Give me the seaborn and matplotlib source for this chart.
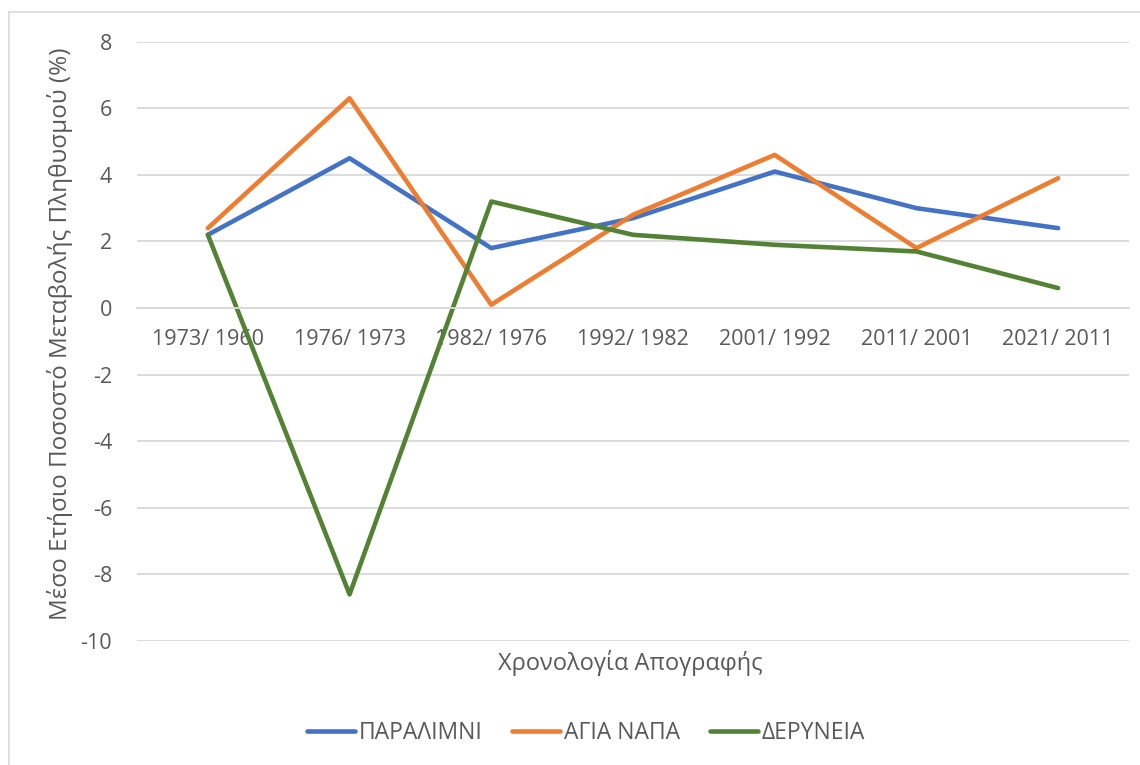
import matplotlib
matplotlib.use("Agg")
import matplotlib.pyplot as plt
from matplotlib.lines import Line2D
import seaborn as sns
import pandas as pd

periods = ["1973/ 1960", "1976/ 1973", "1982/ 1976", "1992/ 1982",
           "2001/ 1992", "2011/ 2001", "2021/ 2011"]
paralimni = [2.2, 4.5, 1.8, 2.7, 4.1, 3.0, 2.4]
agia_napa = [2.4, 6.3, 0.1, 2.8, 4.6, 1.8, 3.9]
deryneia = [2.2, -8.6, 3.2, 2.2, 1.9, 1.7, 0.6]
series_names = ["ΠΑΡΑΛΙΜΝΙ", "ΑΓΙΑ ΝΑΠΑ", "ΔΕΡΥΝΕΙΑ"]
colors = ["#4472C4", "#ED7D31", "#548235"]
y_ticks = [8, 6, 4, 2, 0, -2, -4, -6, -8, -10]

sns.set_theme(style="white")
plt.rcParams["font.family"] = ["Open Sans", "DejaVu Sans"]
plt.rcParams["axes.unicode_minus"] = False
text_color = "#595959"

df = pd.concat([
    pd.DataFrame({"period": periods, "value": vals, "town": name})
    for name, vals in zip(series_names, [paralimni, agia_napa, deryneia])
], ignore_index=True)

W, H = 1140, 765
fig = plt.figure(figsize=(W / 100, H / 100), dpi=100)
ax = fig.add_axes([137 / W, 124 / H, 992 / W, 599.3 / H])

sns.lineplot(data=df, x="period", y="value", hue="town", sort=False,
             palette=colors, linewidth=3.3, ax=ax, legend=True)
for line in ax.lines:
    line.set_solid_capstyle("round")
    line.set_solid_joinstyle("round")

ax.set_xlim(-0.5, len(periods) - 0.5)
ax.set_ylim(-10, 8)
ax.set_yticks(y_ticks)
ax.yaxis.grid(True, color="#D9D9D9", linewidth=1.3)
ax.set_axisbelow(True)
for side in ["top", "right", "left"]:
    ax.spines[side].set_visible(False)
ax.spines["bottom"].set_position(("data", 0))
ax.spines["bottom"].set_color("#D9D9D9")
ax.spines["bottom"].set_linewidth(1.3)

ax.tick_params(axis="x", length=0, pad=15, labelsize=15.5, labelcolor=text_color)
ax.tick_params(axis="y", length=0, pad=18, labelsize=15.5, labelcolor=text_color)

ax.set_ylabel("Μέσο Ετήσιο Ποσοστό Μεταβολής Πληθυσμού (%)",
              fontsize=17.5, color=text_color, va="center")
ax.yaxis.set_label_coords(-0.0776, 0.513)
ax.set_xlabel("Χρονολογία Απογραφής", fontsize=17, color=text_color, va="center")
ax.xaxis.set_label_coords(0.497, -0.0367)

handles, labels = ax.get_legend_handles_labels()
ax.legend(handles, labels, loc="center", bbox_to_anchor=(586 / W, 32 / H),
          bbox_transform=fig.transFigure, ncol=3, frameon=False,
          fontsize=16.5, labelcolor=text_color, handlelength=2.1,
          handletextpad=0.15, columnspacing=1.3)

# chart-area frame: top and left edges
frame_kw = dict(transform=fig.transFigure, color="#D9D9D9", linewidth=1.2)
fig.lines.append(Line2D([9 / W, 1.0], [1 - 12 / H, 1 - 12 / H], **frame_kw))
fig.lines.append(Line2D([9 / W, 9 / W], [1 - 12 / H, 0.0], **frame_kw))

fig.savefig("out.png", dpi=100, facecolor="white")
